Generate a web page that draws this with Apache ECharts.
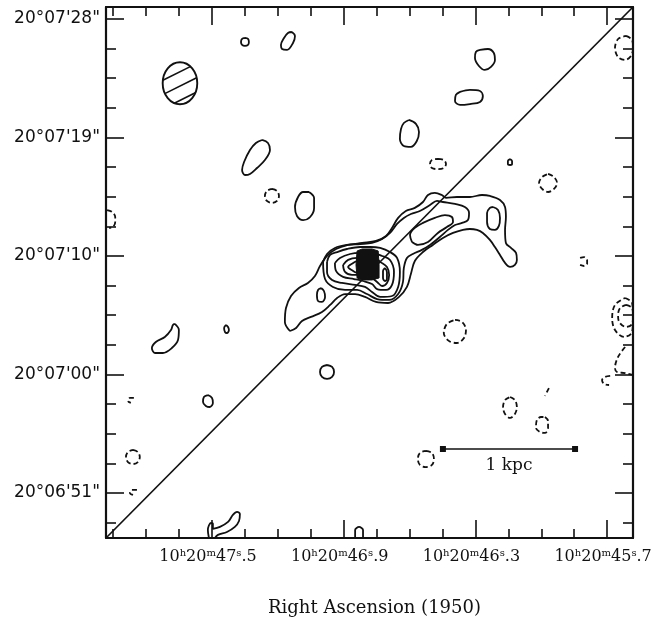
<!DOCTYPE html>
<html>
<head>
<meta charset="utf-8">
<script src="https://cdn.jsdelivr.net/npm/echarts@6/dist/echarts.min.js"></script>
<style>
html,body{margin:0;padding:0;background:#fff;}
#chart{width:655px;height:625px;}
</style>
</head>
<body>
<div id="chart"></div>
<script>
// ---- Axis extents (RA seconds of 10h20m, Dec arcsec offset from 20°07'00") ----
const xRange = [45.582, 47.983];
const yRange = [-11.42, 28.91];

// ---- Tick values and labels ----
const xMajorTicks = [47.5, 46.9, 46.3, 45.7];
const xTickLabels = ['10{sup|h}20{sup|m}47{sup|s}.5', '10{sup|h}20{sup|m}46{sup|s}.9', '10{sup|h}20{sup|m}46{sup|s}.3', '10{sup|h}20{sup|m}45{sup|s}.7'];
const xMinorTicks = [47.95, 47.8, 47.65, 47.35, 47.2, 47.05, 46.75, 46.6, 46.45, 46.15, 46.0, 45.85];
const yMajorTicks = [28, 19, 10, 1, -8];
const yTickLabels = ['20°07\'28"', '20°07\'19"', '20°07\'10"', '20°07\'00"', '20°06\'51"'];
const yMinorTicks = [25.75, 23.5, 21.25, 16.75, 14.5, 12.25, 7.75, 5.5, 3.25, -1.25, -3.5, -5.75, -10.25];
const xAxisTitle = 'Right Ascension (1950)';

// ---- Positive (solid) contours ----
const contourL1 = [[47.145,4.30],[47.168,4.99],[47.163,6.05],[47.140,6.96],[47.104,7.57],[47.063,7.95],[47.031,8.48],[47.008,9.24],[46.976,10.00],[46.935,10.53],[46.880,10.84],[46.816,10.99],[46.753,11.14],[46.707,11.52],[46.680,12.13],[46.652,12.89],[46.617,13.42],[46.576,13.65],[46.539,14.10],[46.516,14.63],[46.485,14.79],[46.453,14.63],[46.434,14.41],[46.384,14.48],[46.325,14.48],[46.270,14.63],[46.234,14.56],[46.188,14.25],[46.165,13.72],[46.161,12.96],[46.165,11.98],[46.161,10.99],[46.138,10.61],[46.115,10.23],[46.111,9.70],[46.120,9.32],[46.142,9.17],[46.165,9.47],[46.188,10.08],[46.211,10.68],[46.234,11.22],[46.266,11.75],[46.293,11.98],[46.325,12.05],[46.357,11.98],[46.402,11.75],[46.448,11.37],[46.494,10.84],[46.539,10.30],[46.576,9.62],[46.594,8.63],[46.612,7.65],[46.648,6.89],[46.698,6.43],[46.753,6.51],[46.803,6.89],[46.848,7.11],[46.894,7.11],[46.930,6.81],[46.962,6.28],[46.999,5.75],[47.049,5.37],[47.090,5.06],[47.117,4.53],[47.145,4.30]];
const contourL2 = [[46.994,9.55],[46.976,10.15],[46.940,10.61],[46.885,10.84],[46.825,10.91],[46.771,10.99],[46.725,11.29],[46.689,11.75],[46.657,12.43],[46.626,12.89],[46.594,13.19],[46.553,13.42],[46.507,13.87],[46.475,14.18],[46.448,14.10],[46.393,13.95],[46.348,13.72],[46.329,13.27],[46.334,12.73],[46.361,12.51],[46.393,12.35],[46.425,11.98],[46.462,11.44],[46.507,10.84],[46.544,10.46],[46.585,10.15],[46.612,9.85],[46.626,9.09],[46.630,8.03],[46.652,7.11],[46.693,6.66],[46.748,6.73],[46.794,7.11],[46.839,7.42],[46.894,7.42],[46.949,7.65],[46.985,8.25],[46.994,9.55]];
const contourL3 = [[46.976,9.55],[46.962,10.08],[46.930,10.30],[46.885,10.53],[46.825,10.68],[46.780,10.68],[46.734,10.61],[46.689,10.30],[46.657,9.85],[46.644,8.79],[46.652,7.65],[46.680,6.96],[46.734,6.89],[46.771,7.27],[46.803,7.65],[46.848,7.80],[46.908,7.95],[46.953,8.18],[46.976,8.79],[46.976,9.55]];
const contourL4 = [[46.940,9.47],[46.917,9.85],[46.871,10.15],[46.825,10.23],[46.771,10.23],[46.725,10.00],[46.689,9.70],[46.671,8.79],[46.680,7.80],[46.707,7.42],[46.748,7.49],[46.771,7.87],[46.812,8.10],[46.853,8.25],[46.903,8.41],[46.935,8.86],[46.940,9.47]];
const contourL5 = [[46.903,9.32],[46.880,9.70],[46.839,9.85],[46.803,9.85],[46.757,9.85],[46.734,9.55],[46.703,9.17],[46.693,8.56],[46.703,7.95],[46.725,7.72],[46.748,8.03],[46.780,8.41],[46.825,8.56],[46.862,8.56],[46.894,8.79],[46.903,9.32]];
const innerLeftPeak = [[46.839,9.62],[46.857,9.47],[46.880,9.17],[46.857,8.86],[46.839,8.71]];
const innerRightPeak = [[46.712,9.09],[46.703,8.79],[46.703,8.25],[46.712,8.10],[46.721,8.33],[46.721,8.86],[46.712,9.09]];
const jetKnot = [[46.589,11.06],[46.598,11.60],[46.576,12.13],[46.539,12.51],[46.485,12.89],[46.439,13.11],[46.407,12.96],[46.402,12.58],[46.430,12.20],[46.471,11.75],[46.516,11.06],[46.562,10.84],[46.589,11.06]];
const jetHump = [[46.220,13.72],[46.197,13.49],[46.188,12.89],[46.193,12.28],[46.211,11.98],[46.234,12.05],[46.247,12.58],[46.247,13.27],[46.234,13.65],[46.220,13.72]];
const lobeKnot = [[47.003,7.57],[46.990,7.34],[46.985,6.89],[46.999,6.51],[47.017,6.58],[47.022,7.04],[47.017,7.42],[47.003,7.57]];
const coreShape = [[46.839,10.38],[46.816,10.53],[46.771,10.53],[46.743,10.38],[46.739,9.32],[46.739,8.33],[46.771,8.18],[46.816,8.18],[46.839,8.33],[46.844,9.32]];

const posBlob1 = [[47.350,26.56],[47.336,26.48],[47.332,26.25],[47.336,26.03],[47.350,25.95],[47.363,26.03],[47.368,26.25],[47.363,26.48],[47.350,26.56]];
const posBlob2 = [[47.136,27.01],[47.122,26.71],[47.131,26.18],[47.158,25.65],[47.181,25.72],[47.186,26.03],[47.172,26.56],[47.154,26.94],[47.136,27.01]];
const posBlob3 = [[47.272,18.81],[47.245,18.58],[47.236,18.05],[47.259,17.29],[47.295,16.68],[47.327,16.23],[47.350,16.15],[47.363,16.53],[47.354,17.14],[47.327,18.05],[47.300,18.58],[47.272,18.81]];
const posBlob4 = [[47.058,14.86],[47.035,14.41],[47.035,13.65],[47.053,12.96],[47.085,12.73],[47.113,13.04],[47.122,13.72],[47.108,14.48],[47.085,14.86],[47.058,14.86]];
const posBlob5 = [[46.279,25.65],[46.243,25.72],[46.216,25.42],[46.211,24.89],[46.229,24.36],[46.257,24.13],[46.284,24.43],[46.302,25.04],[46.298,25.49],[46.279,25.65]];
const posBlob6 = [[46.370,22.46],[46.325,22.61],[46.279,22.53],[46.266,22.15],[46.279,21.70],[46.325,21.54],[46.370,21.47],[46.393,21.77],[46.389,22.23],[46.370,22.46]];
const posBlob7 = [[46.603,20.33],[46.571,20.03],[46.557,19.42],[46.567,18.73],[46.594,18.28],[46.626,18.35],[46.644,18.89],[46.639,19.65],[46.626,20.10],[46.603,20.33]];
const posBlob8 = [[46.142,17.37],[46.133,17.22],[46.133,16.99],[46.142,16.91],[46.152,16.99],[46.152,17.22],[46.142,17.37]];
const posBlob9 = [[47.669,4.84],[47.651,4.38],[47.655,3.62],[47.683,3.01],[47.724,2.63],[47.760,2.63],[47.774,3.01],[47.756,3.47],[47.715,3.85],[47.687,4.38],[47.678,4.76],[47.669,4.84]];
const posBlob10 = [[47.436,4.76],[47.427,4.61],[47.423,4.38],[47.432,4.15],[47.441,4.23],[47.445,4.53],[47.436,4.76]];
const posBlob11 = [[47.519,-0.56],[47.500,-0.78],[47.496,-1.16],[47.510,-1.47],[47.528,-1.39],[47.541,-1.09],[47.537,-0.71],[47.519,-0.56]];
const posBlob12 = [[46.976,1.72],[46.953,1.57],[46.944,1.19],[46.953,0.81],[46.976,0.66],[46.999,0.81],[47.008,1.19],[46.999,1.57],[46.976,1.72]];
const posBlob13 = [[47.514,-11.42],[47.519,-10.81],[47.505,-10.28],[47.496,-10.35],[47.496,-10.73],[47.464,-10.58],[47.427,-10.20],[47.405,-9.67],[47.386,-9.44],[47.373,-9.60],[47.377,-10.13],[47.396,-10.58],[47.432,-10.96],[47.473,-11.18],[47.487,-11.42]];
const posBlob14 = [[46.848,-11.42],[46.848,-10.81],[46.830,-10.58],[46.812,-10.81],[46.812,-11.42]];

// ---- Negative (dashed) contours ----
const negBlob1 = [[47.227,15.09],[47.204,14.94],[47.195,14.56],[47.204,14.18],[47.227,14.03],[47.250,14.18],[47.259,14.56],[47.250,14.94],[47.227,15.09]];
const negBlob2 = [[47.978,13.49],[47.955,13.34],[47.941,12.96],[47.941,12.58],[47.951,12.20],[47.969,12.13]];
const negBlob3 = [[46.471,17.37],[46.444,17.29],[46.434,16.99],[46.444,16.68],[46.471,16.60],[46.498,16.68],[46.507,16.99],[46.498,17.29],[46.471,17.37]];
const negBlob4 = [[45.969,16.23],[45.942,16.00],[45.928,15.54],[45.942,15.09],[45.969,14.86],[45.996,15.09],[46.010,15.54],[45.996,16.00],[45.969,16.23]];
const negBlob5 = [[45.614,26.71],[45.586,26.41],[45.582,25.80],[45.591,25.19],[45.618,24.89],[45.650,25.11],[45.664,25.80],[45.650,26.48],[45.614,26.71]];
const negBlob6 = [[45.823,9.85],[45.805,9.92],[45.791,9.70],[45.791,9.40],[45.805,9.24],[45.823,9.32]];
const negBlob7 = [[46.393,5.14],[46.361,4.99],[46.343,4.38],[46.352,3.77],[46.384,3.39],[46.421,3.55],[46.444,4.15],[46.430,4.84],[46.393,5.14]];
const negBlob8 = [[45.618,6.81],[45.586,6.43],[45.582,5.29],[45.586,4.23],[45.623,3.85],[45.664,4.38],[45.677,5.29],[45.664,6.28],[45.618,6.81]];
const negBlob9 = [[45.614,6.28],[45.586,6.05],[45.582,5.44],[45.586,4.84],[45.614,4.61],[45.645,4.99],[45.650,5.52],[45.641,6.05],[45.614,6.28]];
const negBlob10 = [[45.618,3.09],[45.650,2.33],[45.664,1.49],[45.655,1.19],[45.618,1.11],[45.582,0.96]];
const negBlob11 = [[45.686,0.89],[45.709,0.81],[45.723,0.58],[45.714,0.28],[45.691,0.20]];
const negBlob12 = [[46.142,-0.71],[46.120,-0.94],[46.111,-1.47],[46.120,-2.00],[46.142,-2.30],[46.165,-2.00],[46.174,-1.47],[46.165,-0.94],[46.142,-0.71]];
const negBlob13 = [[45.965,-0.03],[45.974,-0.33],[45.983,-0.63]];
const negBlob14 = [[45.983,-2.23],[45.969,-2.53],[45.969,-3.06],[45.983,-3.44],[46.006,-3.37],[46.024,-3.06],[46.020,-2.46],[46.001,-2.23],[45.983,-2.23]];
const negBlob15 = [[46.526,-4.81],[46.498,-4.96],[46.489,-5.42],[46.498,-5.87],[46.526,-6.03],[46.553,-5.87],[46.562,-5.42],[46.553,-4.96],[46.526,-4.81]];
const negBlob16 = [[47.856,-0.78],[47.874,-0.78],[47.883,-1.01],[47.870,-1.16]];
const negBlob17 = [[47.860,-4.73],[47.838,-4.89],[47.829,-5.27],[47.838,-5.65],[47.860,-5.80],[47.883,-5.65],[47.892,-5.27],[47.883,-4.89],[47.860,-4.73]];
const negBlob18 = [[47.842,-7.77],[47.865,-7.77],[47.874,-8.00],[47.860,-8.15]];

// ---- Other annotations ----
const diagonalLine = [[47.983,-11.42],[45.582,28.91]];
const beamCenter = [47.646, 23.12];
const beamRadius = [0.0788, 1.595];
const beamHatch1 = [[47.724,23.34],[47.599,24.38]];
const beamHatch2 = [[47.715,22.33],[47.570,23.53]];
const beamHatch3 = [[47.672,21.60],[47.576,22.40]];
const scaleBar = [[46.448,-4.66],[45.846,-4.66]];
const scaleBarLabelPos = [46.147,-5.95];
const scaleBarLabel = '1 kpc';

const positiveContours = [contourL1, contourL2, contourL3, contourL4, contourL5, innerLeftPeak, innerRightPeak, jetKnot, jetHump, lobeKnot,
  posBlob1, posBlob2, posBlob3, posBlob4, posBlob5, posBlob6, posBlob7, posBlob8, posBlob9, posBlob10, posBlob11, posBlob12, posBlob13, posBlob14];
const negativeContours = [negBlob1, negBlob2, negBlob3, negBlob4, negBlob5, negBlob6, negBlob7, negBlob8, negBlob9, negBlob10, negBlob11, negBlob12,
  negBlob13, negBlob14, negBlob15, negBlob16, negBlob17, negBlob18];

const INK = '#111111';

function contourSeries(data, dashed) {
  return {
    type: 'line', data: data, symbol: 'none', showSymbol: false, smooth: 0.35,
    silent: true, animation: false, z: 3,
    lineStyle: { color: INK, width: 1.8, type: dashed ? [5, 3] : 'solid' }
  };
}
function plainLine(data, w) {
  return { type: 'line', data: data, symbol: 'none', showSymbol: false, silent: true, animation: false, z: 3,
    lineStyle: { color: INK, width: w } };
}

function findIndex(arr, v) {
  for (let i = 0; i < arr.length; i++) if (Math.abs(arr[i] - v) < 1e-6) return i;
  return -1;
}

const frameLine = { show: true, onZero: false, lineStyle: { color: INK, width: 2.2 } };
const tickStyle = { color: INK, width: 1.6 };

function xAx(pos, major, withLabel) {
  const a = {
    type: 'value', position: pos, min: xRange[0], max: xRange[1], inverse: true,
    axisLine: major ? frameLine : { show: false, onZero: false },
    axisTick: { show: true, inside: true, length: major ? 18 : 9, customValues: major ? xMajorTicks : xMinorTicks, lineStyle: tickStyle },
    axisLabel: { show: false },
    splitLine: { show: false }, minorTick: { show: false }
  };
  if (withLabel) {
    a.axisLabel = {
      show: true, customValues: xMajorTicks, margin: 10, color: INK, hideOverlap: false,
      showMinLabel: true, showMaxLabel: true,
      fontFamily: 'DejaVu Serif', fontSize: 16, lineHeight: 18, padding: [0, 8, 0, 0],
      formatter: function (v) { const i = findIndex(xMajorTicks, v); return i >= 0 ? xTickLabels[i] : ''; },
      rich: { sup: { fontFamily: 'DejaVu Serif', fontSize: 10, verticalAlign: 'top', color: INK, lineHeight: 18 } }
    };
    a.name = xAxisTitle;
    a.nameLocation = 'middle';
    a.nameGap = 61;
    a.nameTextStyle = { fontFamily: 'DejaVu Serif', fontSize: 18, color: INK, padding: [0, 0, 0, 10] };
  }
  return a;
}
function yAx(pos, major, withLabel) {
  const a = {
    type: 'value', position: pos, min: yRange[0], max: yRange[1],
    axisLine: major ? frameLine : { show: false, onZero: false },
    axisTick: { show: true, inside: true, length: major ? 18 : 10, customValues: major ? yMajorTicks : yMinorTicks, lineStyle: tickStyle },
    axisLabel: { show: false },
    splitLine: { show: false }, minorTick: { show: false }
  };
  if (withLabel) {
    a.axisLabel = {
      show: true, customValues: yMajorTicks, margin: 6, color: INK, hideOverlap: false,
      showMinLabel: true, showMaxLabel: true,
      fontFamily: 'DejaVu Sans', fontSize: 17,
      formatter: function (v) { const i = findIndex(yMajorTicks, v); return i >= 0 ? yTickLabels[i] : ''; }
    };
  }
  return a;
}

const series = [];
positiveContours.forEach(function (c) { series.push(contourSeries(c, false)); });
negativeContours.forEach(function (c) { series.push(contourSeries(c, true)); });
series.push(plainLine(diagonalLine, 1.7));
[beamHatch1, beamHatch2, beamHatch3].forEach(function (h) { series.push(plainLine(h, 1.6)); });
series.push({
  type: 'custom', coordinateSystem: 'cartesian2d', data: [beamCenter], silent: true, animation: false, z: 4,
  renderItem: function (params, api) {
    const c = api.coord([api.value(0), api.value(1)]);
    const s = api.size(beamRadius);
    return { type: 'ellipse', shape: { cx: c[0], cy: c[1], rx: Math.abs(s[0]), ry: Math.abs(s[1]) },
      style: { fill: 'none', stroke: INK, lineWidth: 1.9 } };
  }
});
series.push({
  type: 'custom', coordinateSystem: 'cartesian2d', data: [coreShape[0]], silent: true, animation: false, z: 5,
  renderItem: function (params, api) {
    return { type: 'polygon', shape: { points: coreShape.map(function (p) { return api.coord(p); }) },
      style: { fill: INK, stroke: INK, lineWidth: 1 } };
  }
});
series.push({
  type: 'line', data: scaleBar, symbol: 'rect', symbolSize: 6, showSymbol: true, silent: true, animation: false, z: 4,
  itemStyle: { color: INK, opacity: 1 }, lineStyle: { color: INK, width: 1.7 }
});
series.push({
  type: 'scatter', data: [scaleBarLabelPos], symbolSize: 1, silent: true, animation: false, z: 4,
  itemStyle: { color: 'rgba(0,0,0,0)', opacity: 1 },
  label: { show: true, position: 'inside', formatter: scaleBarLabel, fontFamily: 'DejaVu Serif', fontSize: 17, color: INK, opacity: 1 }
});

const chart = echarts.init(document.getElementById('chart'), null, { renderer: 'canvas' });
chart.setOption({
  animation: false,
  backgroundColor: '#ffffff',
  grid: { left: 106, top: 7, right: 22, bottom: 87, containLabel: false, outerBoundsMode: 'none' },
  xAxis: [xAx('bottom', true, true), xAx('bottom', false, false), xAx('top', true, false), xAx('top', false, false)],
  yAxis: [yAx('left', true, true), yAx('left', false, false), yAx('right', true, false), yAx('right', false, false)],
  series: series
});
</script>
</body>
</html>
